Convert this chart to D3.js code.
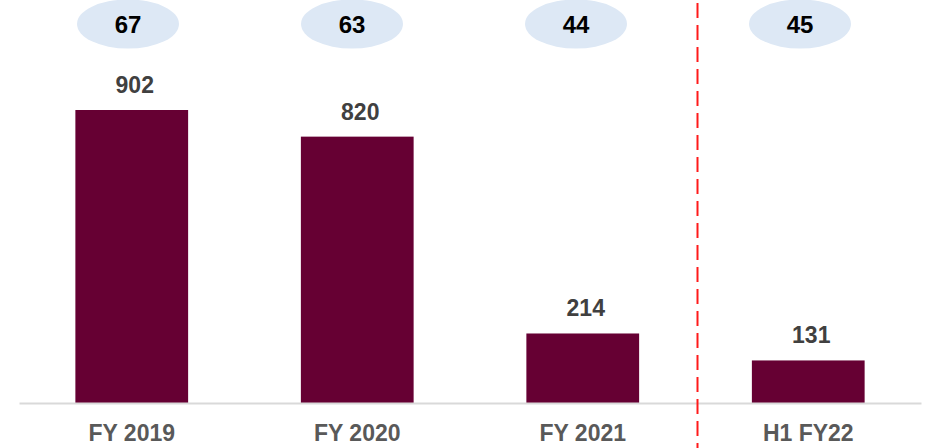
<!DOCTYPE html>
<html>
<head>
<meta charset="utf-8">
<script src="https://cdn.jsdelivr.net/npm/d3@7/dist/d3.min.js"></script>
<style>
  html, body { margin: 0; padding: 0; background: #fff; }
  svg { display: block; }
  text { font-family: "Liberation Sans", Arial, sans-serif; font-weight: bold; }
</style>
</head>
<body>
<svg id="chart" width="927" height="448"></svg>
<script>
// Periods, bar values and the figures shown in the bubbles above each bar
const categories = ["FY 2019", "FY 2020", "FY 2021", "H1 FY22"];
const values = [902, 820, 214, 131];
const bubbleValues = [67, 63, 44, 45];

const W = 927, H = 448;
const baseline = 403;

const svg = d3.select("#chart");

const x = d3.scaleBand()
  .domain(categories)
  .range([19, 921])
  .paddingInner(0.5)
  .paddingOuter(0.25);

// Bubble row sits on a slightly tighter grid than the bars
const xb = d3.scaleBand()
  .domain(categories)
  .range([16, 912])
  .paddingInner(0.5)
  .paddingOuter(0.25);

const y = d3.scaleLinear()
  .domain([0, 902])
  .range([baseline, 110]);

// Bars
svg.append("g")
  .selectAll("rect")
  .data(categories)
  .join("rect")
  .attr("x", d => x(d))
  .attr("y", (d, i) => y(values[i]))
  .attr("width", x.bandwidth())
  .attr("height", (d, i) => baseline - y(values[i]))
  .attr("fill", "#660033");

// Baseline axis
const axis = svg.append("g")
  .attr("transform", `translate(0,${baseline})`)
  .call(d3.axisBottom(x).tickSize(0).tickPadding(0));
axis.select(".domain")
  .attr("stroke", "#d9d9d9")
  .attr("stroke-width", 2);
axis.selectAll(".tick text")
  .attr("y", 0)
  .attr("dy", 38)
  .attr("font-size", 23)
  .attr("font-family", "'Liberation Sans', Arial, sans-serif")
  .attr("font-weight", "bold")
  .attr("fill", "#595959");

// Value labels above bars
svg.append("g")
  .selectAll("text")
  .data(categories)
  .join("text")
  .attr("x", d => x(d) + x.bandwidth() / 2 + 3)
  .attr("y", (d, i) => y(values[i]) - 17)
  .attr("text-anchor", "middle")
  .attr("font-size", 23)
  .attr("fill", "#404040")
  .text((d, i) => values[i]);

// Bubbles
const bubbles = svg.append("g")
  .selectAll("g")
  .data(categories)
  .join("g")
  .attr("transform", d => `translate(${xb(d) + xb.bandwidth() / 2},24)`);
bubbles.append("ellipse")
  .attr("rx", 51)
  .attr("ry", 24.5)
  .attr("fill", "#dde8f5");
bubbles.append("text")
  .attr("text-anchor", "middle")
  .attr("y", 9)
  .attr("font-size", 24)
  .attr("fill", "#000")
  .text((d, i) => bubbleValues[i]);

// Dashed separator between full years and the half year
const sepX = (x(categories[2]) + x.bandwidth() + x(categories[3])) / 2 + 2;
svg.append("line")
  .attr("x1", sepX).attr("x2", sepX)
  .attr("y1", 3).attr("y2", H)
  .attr("stroke", "#ff1a1a")
  .attr("stroke-width", 2)
  .attr("stroke-dasharray", "15,7");
</script>
</body>
</html>
